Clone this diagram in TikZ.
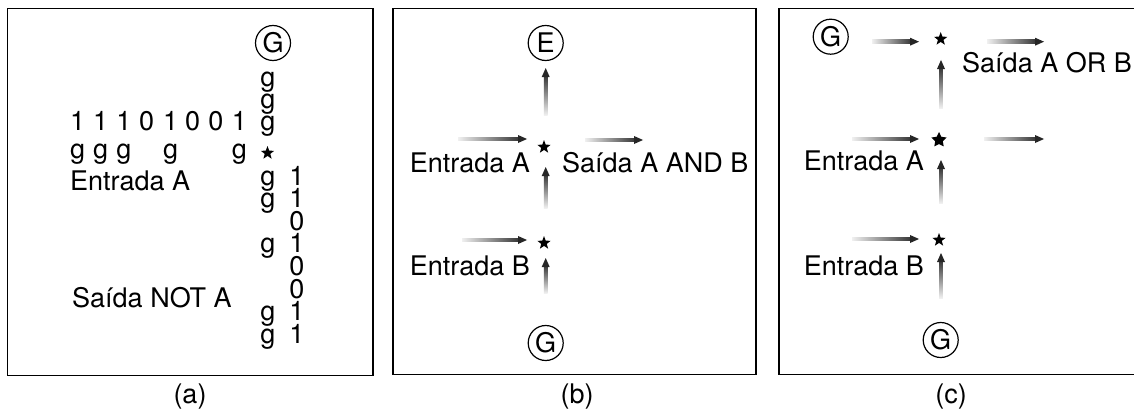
\documentclass[tikz,border=0pt]{standalone}
\usepackage{fontspec}
\setmainfont{TeX Gyre Heros}
\usetikzlibrary{calc,shapes.geometric}

\tikzset{
  txt/.style={inner sep=0pt, font=\fontsize{27}{32}\selectfont},
  sym/.style={txt, anchor=base},
  cell/.style={circle, draw, line width=1.2pt, minimum size=35pt, inner sep=0pt,
               font=\fontsize{27}{32}\selectfont},
  panel/.style={line width=1.8pt},
  dot/.style={star, star points=5, star point ratio=2.4, fill=black,
              inner sep=0pt, minimum size=14pt},
  bigdot/.style={star, star points=5, star point ratio=2.0, fill=black,
                 inner sep=0pt, minimum size=16pt},
}
% shaded signal arrow pointing right: #1 tail, #2 head
\newcommand\sigright[2]{%
  \shade[left color=black!6, right color=black!80]
    ($(#1)+(0,-1.8)$) rectangle ($(#2)+(-7,1.8)$);
  \fill[black!85] ($(#2)+(-9,-4)$) -- (#2) -- ($(#2)+(-9,4)$) -- cycle;}
% shaded signal arrow pointing up: #1 tail, #2 head
\newcommand\sigup[2]{%
  \shade[bottom color=black!6, top color=black!80]
    ($(#1)+(-1.8,0)$) rectangle ($(#2)+(1.8,7)$);
  \fill[black!85] ($(#2)+(-4,9)$) -- (#2) -- ($(#2)+(4,9)$) -- cycle;}

\begin{document}
\begin{tikzpicture}[x=1pt,y=-1pt]
\useasboundingbox (0,0) rectangle (1134,412);
\fill[white] (0,0) rectangle (1134,412);

% ---------- frames and captions ----------
\draw[panel] (7.5,8.5) rectangle (373,375.5);
\draw[panel] (393,8.5) rectangle (756,374.5);
\draw[panel] (779,8.5) rectangle (1145,374.5);
\node[sym] (capa) at (190,403) {(a)};
\node[sym] (capb) at (577,403) {(b)};
\node[sym] (capc) at (951,403) {(c)};

% ---------- (a) NOT gate ----------
\node[cell] (aG) at (273,43) {G};
\node[sym] (ag1) at (268,86) {g};
\node[sym] (ag2) at (268,108) {g};
\node[sym] (ag3) at (268,130) {g};
\node[dot] (astar) at (267.5,153) {};
% input bit stream
\foreach \x/\b [count=\i] in {77.7/1,100.7/1,124/1,146.7/0,170.7/1,192.7/0,216/0,239.3/1}
  \node[sym] (ain\i) at (\x,130) {\b};
\foreach \x [count=\i] in {77.7,100.7,124,170.7,239.3}
  \node[sym] (aing\i) at (\x,158) {g};
\node[txt, anchor=base west] (aEnt) at (70,190) {Entrada A};
% output column
\foreach \y/\b [count=\i] in {185/1,207.6/1,230.2/0,252.8/1,275.4/0,298/0,320.6/1,343.2/1}
  \node[sym] (aout\i) at (297,\y) {\b};
\foreach \y [count=\i] in {185,207.6,252.8,320.6,343.2}
  \node[sym] (aoutg\i) at (268,\y) {g};
\node[txt, anchor=base west] (aSai) at (72,307) {Saída NOT A};

% ---------- (b) AND gate ----------
\node[cell] (bE) at (545.7,43) {E};
\node[cell] (bG) at (545.7,343) {G};
\node[dot] (bs1) at (544,147) {};
\node[dot] (bs2) at (544,243) {};
\node[txt, anchor=base east] (bEA) at (530,172) {Entrada A};
\node[txt, anchor=base west] (bSai) at (562,172) {Saída A AND B};
\node[txt, anchor=base east] (bEB) at (530,275) {Entrada B};
\coordinate (bu1t) at (545.7,115); \coordinate (bu1h) at (545.7,68);
\coordinate (bu2t) at (545.7,208); \coordinate (bu2h) at (545.7,167);
\coordinate (bu3t) at (545.7,293); \coordinate (bu3h) at (545.7,258);
\coordinate (brAt) at (458,139);   \coordinate (brAh) at (527,139);
\coordinate (brOt) at (585,140);   \coordinate (brOh) at (643,140);
\coordinate (brBt) at (462,240);   \coordinate (brBh) at (527,240);
\sigup{bu1t}{bu1h}
\sigup{bu2t}{bu2h}
\sigup{bu3t}{bu3h}
\sigright{brAt}{brAh}
\sigright{brOt}{brOh}
\sigright{brBt}{brBh}

% ---------- (c) OR gate ----------
\node[cell] (cG1) at (830.7,36.7) {G};
\node[cell] (cG2) at (940.7,340) {G};
\node[dot] (cs1) at (940.7,39) {};
\node[bigdot] (cs2) at (939,140) {};
\node[dot] (cs3) at (939,240) {};
\node[txt, anchor=base west] (cSai) at (962,72) {Saída A OR B};
\node[txt, anchor=base east] (cEA) at (924,170) {Entrada A};
\node[txt, anchor=base east] (cEB) at (924,275) {Entrada B};
\coordinate (cr1t) at (872,41.7);  \coordinate (cr1h) at (919,41.7);
\coordinate (cr2t) at (987,41.7);  \coordinate (cr2h) at (1044,41.7);
\coordinate (cr3t) at (852,139);   \coordinate (cr3h) at (919,139);
\coordinate (cr4t) at (984,139);   \coordinate (cr4h) at (1044,139);
\coordinate (cr5t) at (852,239);   \coordinate (cr5h) at (919,239);
\coordinate (cu1t) at (941,108);   \coordinate (cu1h) at (941,60);
\coordinate (cu2t) at (941,203);   \coordinate (cu2h) at (941,160);
\coordinate (cu3t) at (941,298);   \coordinate (cu3h) at (941,253);
\sigright{cr1t}{cr1h}
\sigright{cr2t}{cr2h}
\sigright{cr3t}{cr3h}
\sigright{cr4t}{cr4h}
\sigright{cr5t}{cr5h}
\sigup{cu1t}{cu1h}
\sigup{cu2t}{cu2h}
\sigup{cu3t}{cu3h}
\end{tikzpicture}
\end{document}
